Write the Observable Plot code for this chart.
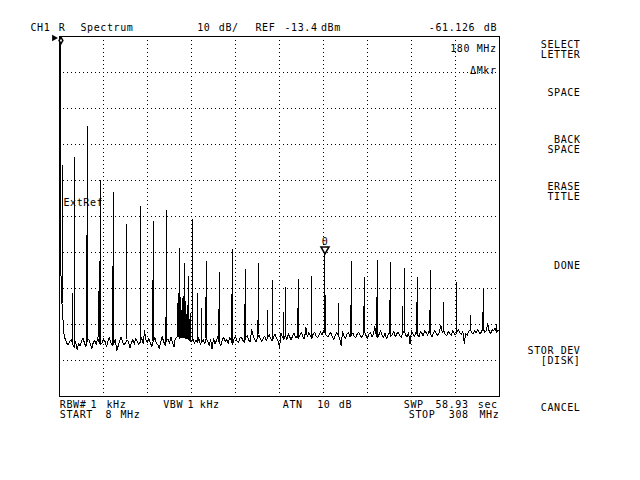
<!DOCTYPE html>
<html><head><meta charset="utf-8">
<script src="https://cdn.jsdelivr.net/npm/d3@7"></script>
<script src="https://cdn.jsdelivr.net/npm/@observablehq/plot@0.6"></script>
<style>html,body{margin:0;padding:0;background:#fff}</style>
</head><body><div id="chart"></div>
<script>
// ---- data ----
const startMHz = 8, stopMHz = 308;
const refLevelDbm = -13.4, dBPerDiv = 10;
const gridMHz = [38, 68, 98, 128, 158, 188, 218, 248, 278];
const gridDbm = [-23.4, -33.4, -43.4, -53.4, -63.4, -73.4, -83.4, -93.4, -103.4];

// harmonics of 9 MHz
const harmonicMHz = [9,18,27,36,45,54,63,72,81,90,99,108,117,126,135,144,153,162,171,180,189,198,207,216,225,234,243,252,261,270,279,288,297,306];
const harmonicDbm = [-13.4,-47.0,-38.4,-53.4,-56.7,-65.6,-60.6,-64.8,-61.7,-72.3,-64.2,-75.9,-79.0,-72.6,-78.1,-76.5,-81.2,-83.1,-80.9,-80.1,-73.8,-87.6,-75.9,-80.3,-75.6,-76.2,-77.8,-80.3,-78.4,-87.3,-81.7,-90.9,-83.4,-93.4];

// smaller lines beside the harmonics
const spurMHz = [10.0,16.6,26.4,35.5,34.4,44.3,63.5,71.6,80.1,88.9,93.4,96.2,98.5,101.9,104.6,107.6,116.6,125.4,134.2,143.3,150.0,161.0,170.3,179.5,189.4,206.4,215.3,224.2,233.0,242.0,251.4,260.2,278.4,296.4];
const spurDbm = [-49.2,-84.8,-68.7,-75.9,-84.2,-77.3,-79.2,-81.2,-91.4,-84.8,-76.5,-80.1,-82.6,-84.8,-89.0,-85.9,-89.2,-85.1,-87.8,-92.3,-89.5,-90.1,-89.0,-88.1,-85.3,-88.0,-88.4,-85.9,-86.7,-88.4,-87.3,-89.5,-88.7,-90.1];

// dense cluster near 90 MHz
const clusterMHz = [88.3,88.7,89.1,89.5,89.9,90.4,90.8,91.2,91.6,92.0,92.4,92.8,93.8,94.2,94.6,95.0,95.4,95.8,96.6,97.0,97.4];
const clusterDbm = [-91.0,-87.5,-85.5,-90.0,-86.5,-88.5,-85.8,-89.5,-86.2,-88.0,-85.6,-87.4,-89.2,-86.9,-90.5,-88.1,-91.2,-89.0,-92.0,-90.4,-93.0];

// carrier skirt
const skirtMHz = [9.2, 9.7, 10.4, 11.0, 11.5];
const skirtDbm = [-80.0, -87.6, -92.3, -95.9, -97.3];

// noise floor, 1 MHz steps from 12 MHz
const noiseStartMHz = 12;
const noiseDbm = [
-97.3,-98.6,-99.1,-98.0,-97.6,-98.9,-99.8,-98.2,-100.4,-98.7,
-99.3,-98.1,-97.2,-98.5,-99.6,-98.0,-97.5,-98.8,-100.2,-98.4,
-97.8,-98.9,-97.1,-98.3,-99.0,-98.6,-97.4,-98.1,-99.5,-98.2,
-97.0,-98.4,-99.2,-98.8,-97.6,-100.6,-99.4,-97.9,-96.9,-98.3,
-99.1,-98.5,-97.7,-98.2,-99.9,-98.6,-97.5,-98.9,-97.2,-98.1,
-99.0,-98.3,-97.0,-98.7,-95.2,-97.8,-98.4,-97.3,-98.6,-99.5,
-98.0,-97.1,-98.5,-99.0,-100.1,-98.2,-96.8,-98.1,-99.2,-97.9,
-97.4,-98.6,-97.0,-98.3,-99.7,-97.2,-97.0,-96.6,-97.3,-96.8,
-97.1,-96.7,-97.4,-96.9,-97.6,-97.9,-98.2,-97.3,-98.6,-97.8,
-98.4,-97.1,-99.0,-98.2,-97.6,-98.8,-97.3,-98.0,-99.2,-97.5,
-100.3,-97.2,-98.7,-97.9,-96.8,-98.3,-99.4,-97.6,-97.0,-98.2,
-97.5,-98.6,-97.1,-97.8,-98.9,-97.3,-96.6,-97.9,-98.5,-97.2,
-96.9,-97.8,-98.4,-97.0,-96.5,-97.7,-98.3,-94.8,-96.4,-97.6,
-98.2,-97.0,-96.3,-97.5,-98.1,-97.2,-96.6,-97.9,-97.0,-96.2,
-97.4,-98.0,-96.8,-96.1,-97.3,-97.9,-99.8,-95.9,-96.9,-97.5,
-96.3,-97.6,-96.0,-96.9,-97.7,-96.4,-95.8,-97.1,-96.6,-97.3,
-96.2,-95.7,-96.9,-97.4,-94.3,-96.8,-95.6,-96.5,-97.2,-96.0,
-95.5,-96.7,-97.1,-96.2,-95.4,-96.3,-95.0,-95.8,-96.4,-96.9,
-96.1,-95.6,-96.8,-97.6,-96.3,-95.7,-96.5,-97.0,-99.2,-95.4,
-96.6,-97.2,-96.1,-95.5,-96.9,-96.3,-95.8,-96.7,-97.1,-96.0,
-95.6,-96.4,-97.0,-96.2,-95.3,-96.5,-97.3,-96.1,-95.7,-96.8,
-96.2,-93.9,-96.6,-97.1,-96.0,-95.2,-96.4,-96.9,-95.8,-97.4,
-96.3,-95.5,-96.7,-96.1,-95.3,-96.8,-96.0,-95.6,-96.5,-97.0,
-95.9,-95.1,-96.3,-96.8,-95.7,-98.9,-95.2,-96.0,-96.7,-95.5,
-96.1,-96.9,-95.4,-95.8,-96.6,-95.0,-95.7,-96.4,-95.3,-96.2,
-96.8,-95.6,-95.1,-96.0,-96.5,-95.4,-93.6,-95.7,-95.0,-96.1,
-96.6,-95.3,-95.9,-96.4,-95.2,-95.8,-96.3,-95.5,-94.9,-95.7,
-96.2,-95.4,-98.6,-95.9,-96.5,-95.3,-94.8,-95.6,-96.1,-95.2,
-95.8,-94.9,-95.5,-96.0,-95.1,-94.7,-95.6,-95.0,-93.2,-95.4,
-95.9,-94.8,-95.2,-94.5,-95.6,-95.0,-94.9
];

const markerIndex = 20; // harmonic at 189 MHz

// texts
const headerTexts = ["CH1", "R", "Spectrum", "10", "dB/", "REF", "-13.4", "dBm", "-61.126", "dB"];
const markerTexts = ["180 MHz", "\u0394Mkr", "ExtRef", "0"];
const footerLine1 = ["RBW#", "1", "kHz", "VBW", "1", "kHz", "ATN", "10", "dB", "SWP", "58.93", "sec"];
const footerLine2 = ["START", "8", "MHz", "STOP", "308", "MHz"];
const softkeyTexts = ["SELECT", "LETTER", "SPACE", "BACK", "SPACE", "ERASE", "TITLE", "DONE", "STOR DEV", "[DISK]", "CANCEL"];

// ---- build tables ----
const trace = skirtMHz.map((f, i) => ({f, dbm: skirtDbm[i]}))
  .concat(noiseDbm.map((v, i) => ({f: noiseStartMHz + i, dbm: v})));
const floorAt = f => {
  let best = trace[0];
  for (const p of trace) if (Math.abs(p.f - f) < Math.abs(best.f - f)) best = p;
  return best.dbm;
};
const lines = harmonicMHz.map((f, i) => ({f, top: harmonicDbm[i], base: floorAt(f)}))
  .concat(spurMHz.map((f, i) => ({f, top: spurDbm[i], base: floorAt(f)})))
  .concat(clusterMHz.map((f, i) => ({f, top: clusterDbm[i], base: floorAt(f)})));
const marker = [{f: harmonicMHz[markerIndex], dbm: harmonicDbm[markerIndex]}];
const carrier = [{f: harmonicMHz[0], dbm: harmonicDbm[0]}];
const refPoint = [{f: startMHz, dbm: refLevelDbm}];

// ---- layout ----
const W = 640, H = 480, ML = 59, MR = 141, MT = 36, MB = 84;
const font = "DejaVu Sans Mono";
const label = (text, x, y, anchor = "start") => Plot.text([text], {
  frameAnchor: "top-left", dx: x - ML, dy: y - MT, textAnchor: anchor,
  lineAnchor: "bottom", fontSize: 10, fill: "black"
});
const headerX = [30, 58.3, 80, 196.7, 218.3, 255, 284, 320.5, 428.3, 483.3];
const f1X = [59.3, 90, 106, 162.7, 187, 199.3, 282.3, 316.7, 338.3, 403.3, 435, 477.3];
const f2X = [59.3, 105, 120, 408.3, 448.3, 479];
const softY = [47.5, 57.5, 95, 142.5, 152.5, 189, 199, 268.5, 353, 363.5, 410];

const textMarks = [
  ...headerTexts.map((t, i) => label(t, headerX[i], 30)),
  label(markerTexts[0], 496, 51.5, "end"),
  label(markerTexts[1], 496, 73, "end"),
  label(markerTexts[2], 63, 205),
  ...footerLine1.map((t, i) => label(t, f1X[i], 407)),
  ...footerLine2.map((t, i) => label(t, f2X[i], 417)),
  ...softkeyTexts.map((t, i) => label(t, 580, softY[i], "end"))
];

const chart = Plot.plot({
  width: W, height: H,
  marginLeft: ML, marginRight: MR, marginTop: MT, marginBottom: MB,
  x: {domain: [startMHz, stopMHz], axis: null},
  y: {domain: [refLevelDbm - 10 * dBPerDiv, refLevelDbm], axis: null},
  style: {background: "white", color: "black", fontFamily: font, letterSpacing: "0.6px"},
  marks: [
    Plot.ruleX(gridMHz, {stroke: "black", strokeDasharray: "1,3", shapeRendering: "crispEdges"}),
    Plot.ruleY(gridDbm, {stroke: "black", strokeDasharray: "1,3", shapeRendering: "crispEdges"}),
    Plot.line(trace, {x: "f", y: "dbm", stroke: "black", strokeWidth: 1, shapeRendering: "crispEdges"}),
    Plot.ruleX(lines, {x: "f", y1: "base", y2: "top", stroke: "black", strokeWidth: 1, shapeRendering: "crispEdges"}),
    Plot.frame({stroke: "black", shapeRendering: "crispEdges"}),
    Plot.dot(carrier, {x: "f", y: "dbm", symbol: "diamond", r: 2, stroke: "black", fill: "white", dy: 4}),
    Plot.dot(refPoint, {x: "f", y: "dbm", symbol: "triangle", rotate: 90, r: 2.5, fill: "black", stroke: "none", dx: -5.4, dy: 1.5}),
    Plot.dot(marker, {x: "f", y: "dbm", symbol: "triangle", rotate: 180, r: 3, stroke: "black", fill: "white", dy: -4.7}),
    Plot.text(marker, {x: "f", y: "dbm", text: () => markerTexts[3], dy: -9, lineAnchor: "bottom", fontSize: 10, fill: "black"}),
    ...textMarks
  ]
});
document.getElementById("chart").appendChild(chart);
</script>
</body></html>
